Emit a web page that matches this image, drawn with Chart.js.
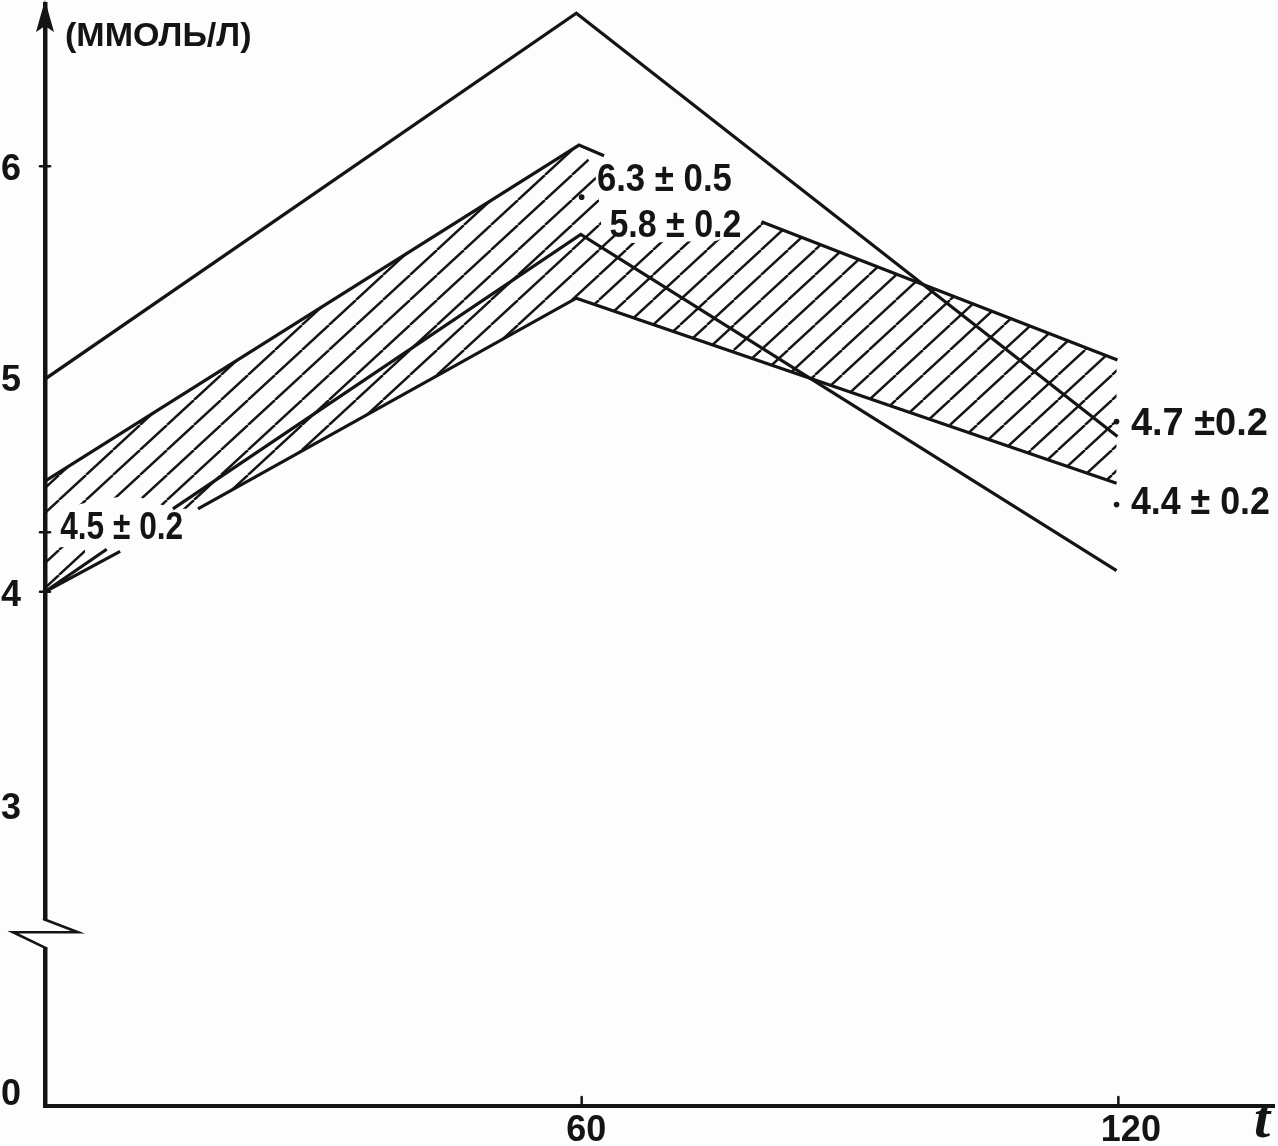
<!DOCTYPE html>
<html>
<head>
<meta charset="utf-8">
<style>html,body{margin:0;padding:0;background:#fdfdfd}canvas{display:block}</style>
<script src="https://cdn.jsdelivr.net/npm/chart.js@4"></script>
</head>
<body>
<canvas id="c" width="1278" height="1146"></canvas>
<script>
// --- values ---
const xTickLabels = ['60', '120'];
const xLabelAt = [60.5, 121.4];
const xTickMarks = [60, 120];
const yTickLabels = ['6', '5', '4', '3', '0'];
const yLabelAt = [5.98, 4.99, 3.98, 2.98, 1.635];
const yTickMarks = [6, 4.28, 4];
const axisBreak = 2.4;

const outerX = [0, 59.4, 119.9];
const outerY = [5.0, 6.72, 4.73];

const upperX = [0, 59.7, 62.5, 71, 80.1, 119.9];
const upperY = [4.52, 6.1, 6.05, null, 5.74, 5.09];

const innerX = [0, 6.9, 10, 14.3, 59.9, 119.8];
const innerY = [4.0, 4.2, null, 4.39, 5.68, 4.1];

const lowerX = [0, 8.4, 13, 17.1, 59.4, 119.8];
const lowerY = [4.0, 4.19, null, 4.39, 5.38, 4.51];

const hatchTopX = [0, 59.7, 61.4, 61.9, 62.2, 65.6, 75.1, 80.1, 119.9];
const hatchTopY = [4.52, 6.1, 5.99, 5.86, 5.72, 5.64, 5.65, 5.74, 5.09];
const hatchBottomX = [0, 1.7, 6.4, 10, 14.3, 17.1, 59.4, 119.8];
const hatchBottomY = [4.3, 4.39, 4.436, 4.454, 4.39, 4.39, 5.38, 4.51];

const hatchPatchTopX = [0, 4.5];
const hatchPatchTopY = [4.206, 4.215];
const hatchPatchBottomX = [0, 4.5];
const hatchPatchBottomY = [4.0, 4.1];

const dotX = [60, 119.8, 119.8];
const dotY = [5.855, 4.8, 4.41];

const noteTexts = ['4.5 ± 0.2', '6.3 ± 0.5', '5.8 ± 0.2', '4.7 ±0.2', '4.4 ± 0.2'];
const noteX = [1.7, 61.7, 63.1, 121.4, 121.4];
const noteY = [4.3, 5.94, 5.72, 4.79, 4.42];
const noteWidths = [123, 135, 132, 137, 139];

const unitText = '(ММОЛЬ/Л)';
const xAxisName = 't';

// --- helpers ---
const INK = '#141414';
const HAND = '"Liberation Sans",sans-serif';
const pts = (xs, ys) => xs.map((x, i) => ({x, y: ys[i]}));

function hatchPattern(w, h, matrix) {
  const t = document.createElement('canvas');
  t.width = w; t.height = h;
  const g = t.getContext('2d');
  g.strokeStyle = INK;
  g.lineWidth = 2.4;
  for (const dx of [-w, 0, w]) {
    g.beginPath();
    g.moveTo(dx, h);
    g.lineTo(dx + w, 0);
    g.stroke();
  }
  const p = document.getElementById('c').getContext('2d').createPattern(t, 'repeat');
  p.setTransform(matrix);
  return p;
}
const hatch = hatchPattern(27, 25, new DOMMatrix().translate(5, 0));

const edge = (data) => ({data, borderColor: INK, borderWidth: 3.2, pointRadius: 0, tension: 0, spanGaps: false, fill: false});
const area = (data, fill) => ({data, borderWidth: 0, borderColor: 'transparent', pointRadius: 0, tension: 0, fill: fill === undefined ? false : fill, backgroundColor: hatch});

const sketchPlugin = {
  id: 'sketch',
  afterDraw(chart) {
    const {ctx, scales: {x, y}} = chart;
    const ax = x.left, bottom = y.bottom;
    ctx.save();
    ctx.strokeStyle = INK;
    ctx.fillStyle = INK;
    ctx.lineCap = 'round';

    // axis tick marks
    ctx.lineWidth = 2.5;
    xTickMarks.forEach(v => {
      const px = x.getPixelForValue(v);
      ctx.beginPath(); ctx.moveTo(px, bottom); ctx.lineTo(px, bottom - 9); ctx.stroke();
    });
    yTickMarks.forEach(v => {
      const py = y.getPixelForValue(v);
      ctx.beginPath(); ctx.moveTo(ax - 5, py); ctx.lineTo(ax + 5, py); ctx.stroke();
    });

    // arrow head at the top of the value axis
    ctx.beginPath();
    ctx.moveTo(ax, 0);
    ctx.lineTo(ax + 9, 32);
    ctx.lineTo(ax, 26);
    ctx.lineTo(ax - 9, 32);
    ctx.closePath();
    ctx.fill();

    // axis break
    const by = y.getPixelForValue(axisBreak);
    ctx.fillStyle = '#fdfdfd';
    ctx.fillRect(ax - 4, by - 12, 8, 27);
    ctx.fillStyle = INK;
    ctx.lineWidth = 2.6;
    ctx.lineJoin = 'miter';
    ctx.beginPath();
    ctx.moveTo(ax - 1, by - 13);
    ctx.lineTo(ax + 33, by);
    ctx.lineTo(ax - 32, by);
    ctx.lineTo(ax + 1, by + 16);
    ctx.stroke();

    // handwritten notes
    ctx.textBaseline = 'middle';
    ctx.textAlign = 'left';
    ctx.font = 'bold 38px ' + HAND;
    noteTexts.forEach((s, i) => {
      ctx.fillText(s, x.getPixelForValue(noteX[i]), y.getPixelForValue(noteY[i]) + 1, noteWidths[i]);
    });

    // unit and axis name
    ctx.font = 'bold 34px ' + HAND;
    ctx.fillText(unitText, 65, 37, 190);
    ctx.font = 'italic bold 58px "Liberation Serif",serif';
    ctx.fillText(xAxisName, 1254, 1122);
    ctx.restore();
  }
};

new Chart(document.getElementById('c'), {
  type: 'line',
  data: {
    datasets: [
      edge(pts(outerX, outerY)),
      edge(pts(upperX, upperY)),
      edge(pts(innerX, innerY)),
      edge(pts(lowerX, lowerY)),
      area(pts(hatchTopX, hatchTopY), 5),
      area(pts(hatchBottomX, hatchBottomY)),
      area(pts(hatchPatchTopX, hatchPatchTopY), 7),
      area(pts(hatchPatchBottomX, hatchPatchBottomY)),
      {data: pts(dotX, dotY), showLine: false, pointRadius: 2.8, pointBackgroundColor: INK, pointBorderWidth: 0, fill: false}
    ]
  },
  options: {
    responsive: false,
    animation: false,
    layout: {padding: {left: 0, right: 2, top: 0, bottom: 0}},
    plugins: {legend: {display: false}, tooltip: {enabled: false}, title: {display: false}},
    scales: {
      x: {
        type: 'linear', min: 0, max: 137.4,
        grid: {display: false, drawTicks: false},
        border: {display: true, color: INK, width: 4},
        afterBuildTicks(s) { s.ticks = xLabelAt.map(v => ({value: v})); },
        afterFit(s) { s.height = 40; s.paddingLeft = 0; s.paddingRight = 0; },
        ticks: {
          autoSkip: false, maxRotation: 0, padding: 3, color: INK,
          font: {family: HAND, size: 36, weight: 'bold'},
          callback: (v, i) => xTickLabels[i]
        }
      },
      y: {
        type: 'linear', min: 1.583, max: 6.763,
        grid: {display: false, drawTicks: false},
        border: {display: true, color: INK, width: 4.5},
        afterBuildTicks(s) { s.ticks = yLabelAt.map(v => ({value: v})); },
        afterFit(s) { s.width = 45; s.paddingTop = 0; s.paddingBottom = 0; },
        ticks: {
          autoSkip: false, padding: 24, color: INK,
          font: {family: HAND, size: 36, weight: 'bold'},
          callback: (v, i) => yTickLabels[i]
        }
      }
    }
  },
  plugins: [sketchPlugin]
});
</script>
</body>
</html>
